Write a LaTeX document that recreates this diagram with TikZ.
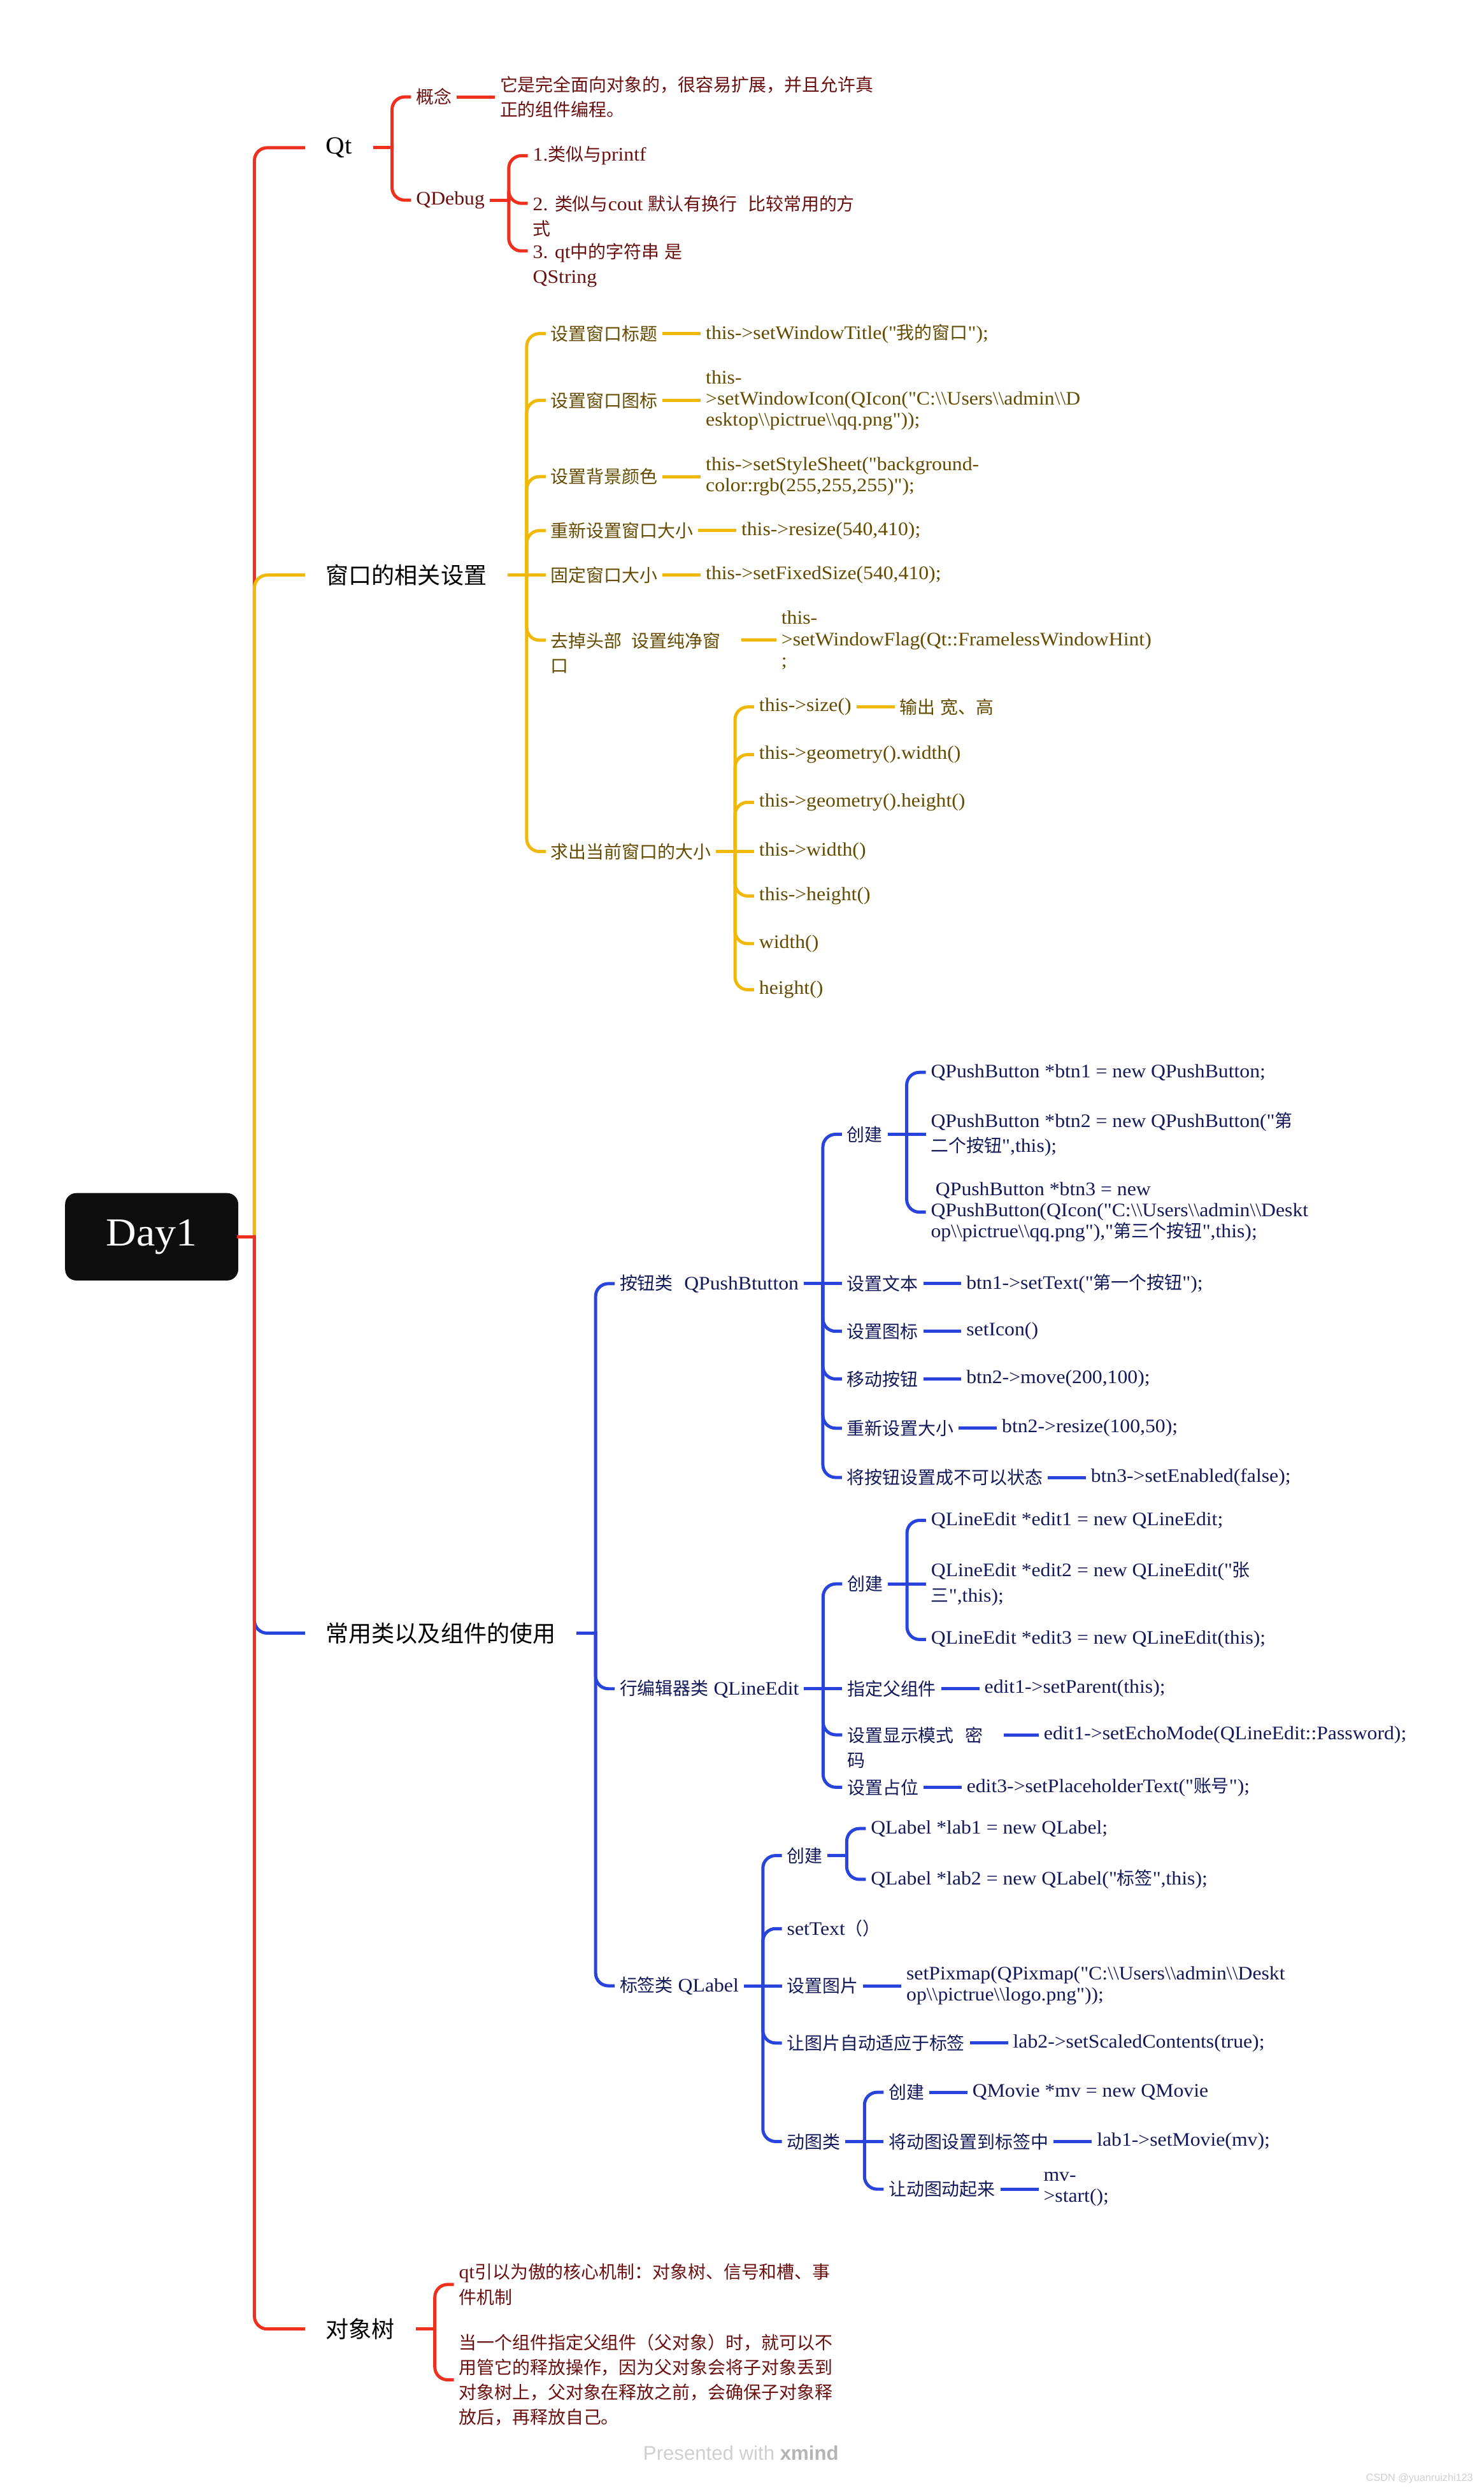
\documentclass[tikz,border=0pt]{standalone}
\usepackage{fontspec}
\setmainfont[Ligatures=TeXOff, FakeStretch=1.06]{Liberation Serif}
\newfontfamily\cjkfont[Scale=0.933]{Noto Sans CJK SC}
\newfontfamily\markfont{Liberation Sans}
\usetikzlibrary{positioning}

% Chinese runs switch to the CJK font by themselves
\XeTeXinterchartokenstate=1
\newXeTeXintercharclass\hanclass
\makeatletter
\def\sethan#1#2{\count@=#1\relax
  \loop\XeTeXcharclass\count@=\hanclass
  \ifnum\count@<#2\relax\advance\count@\@ne\repeat}
\sethan{"3000}{"303F}
\sethan{"4E00}{"9FFF}
\sethan{"FF00}{"FFEF}
\makeatother
\XeTeXinterchartoks 0 \hanclass = {\cjkfont}
\XeTeXinterchartoks 4095 \hanclass = {\cjkfont}
\XeTeXinterchartoks \hanclass 0 = {\rmfamily}
\XeTeXinterchartoks \hanclass 4095 = {\rmfamily}

\newcommand\bsl{\textbackslash}

\definecolor{xred}{HTML}{F0301E}
\definecolor{xyellow}{HTML}{F0B90A}
\definecolor{xblue}{HTML}{2844DC}
\definecolor{redtxt}{HTML}{6B1010}
\definecolor{yeltxt}{HTML}{644B00}
\definecolor{blutxt}{HTML}{14195A}
\definecolor{rootblack}{HTML}{0E0E0E}
\definecolor{markgray}{HTML}{CFCFCF}
\definecolor{markdark}{HTML}{B4B4B4}

\tikzset{
  rootbox/.style={fill=rootblack, rounded corners=7pt, minimum width=109pt,
    minimum height=55pt, text=white, font=\fontsize{25}{30}\selectfont},
  topic/.style={anchor=west, inner xsep=14pt, inner ysep=0pt,
    font=\fontsize{15.5}{18.6}\selectfont},
  lf/.style={inner xsep=4pt, inner ysep=0pt, align=left,
    font=\fontsize{12}{15.7}\selectfont},
  cd/.style={lf, font=\fontsize{12}{13.3}\selectfont},
  redt/.style={text=redtxt},
  yelt/.style={text=yeltxt},
  blut/.style={text=blutxt},
  br/.style={line width=2pt, rounded corners=8pt, line cap=rect},
}

\begin{document}
\begin{tikzpicture}[x=1pt, y=1pt]
\useasboundingbox (0,0) rectangle (934,-1568);

\node[rootbox] (day) at (95.5,-778.5) {Day1};

% main branches
\node[topic] (qt) at (191,-93) {Qt};
\node[topic] (win) at (191,-362) {窗口的相关设置};
\node[topic] (cls) at (191,-1028) {常用类以及组件的使用};
\node[topic] (tree) at (191,-1466) {对象树};

\draw[br, xred] (day.east) -- ++(10,0) coordinate (hub);
\draw[br, xred] (hub) |- (qt.west);
\draw[br, xyellow] (hub) |- (win.west);
\draw[br, xblue] (hub) |- (cls.west);
\draw[br, xred] (hub) |- (tree.west);

% Qt
\node[lf, redt, right=22pt of qt, yshift=32pt] (gn) {概念};
\node[lf, redt, right=22pt of gn] (gnv) {它是完全面向对象的，很容易扩展，并且允许真\\正的组件编程。};
\node[lf, redt, right=22pt of qt, yshift=-33pt] (qdbg) {QDebug};
\node[lf, redt, right=22pt of qdbg, yshift=28pt] (qd1) {1.类似与printf};
\node[lf, redt, right=22pt of qdbg, anchor=north west, yshift=3.2pt] (qd2) {2. 类似与cout 默认有换行\hspace{7pt}比较常用的方\\式};
\node[lf, redt, right=22pt of qdbg, anchor=north west, yshift=-26.8pt] (qd3) {3. qt中的字符串 是\\QString};

\draw[br, xred] (qt.east) -- ++(11,0) coordinate (qt-j);
\foreach \c in {gn, qdbg} \draw[br, xred] (qt-j) |- (\c.west);
\draw[br, xred] (gn.east) -- (gnv.west);
\draw[br, xred] (qdbg.east) -- ++(11,0) coordinate (qdbg-j);
\draw[br, xred] (qdbg-j) |- (qd1.west);
\foreach \c in {qd2, qd3} \draw[br, xred] (qdbg-j) |- ([yshift=-5.2pt]\c.north west);

% window settings
\node[lf, yelt, right=22pt of win, yshift=152pt] (w1) {设置窗口标题};
\node[lf, yelt, right=22pt of win, yshift=110pt] (w2) {设置窗口图标};
\node[lf, yelt, right=22pt of win, yshift=62pt] (w3) {设置背景颜色};
\node[lf, yelt, right=22pt of win, yshift=28pt] (w4) {重新设置窗口大小};
\node[lf, yelt, right=22pt of win] (w5) {固定窗口大小};
\node[lf, yelt, right=22pt of win, anchor=north west, yshift=-35.8pt] (w6) {去掉头部\hspace{6pt}设置纯净窗\\口};
\node[lf, yelt, right=22pt of win, yshift=-174pt] (w7) {求出当前窗口的大小};

\node[cd, yelt, right=22pt of w1] (w1v) {this->setWindowTitle("我的窗口");};
\node[cd, yelt, right=22pt of w2] (w2v) {this-\\>setWindowIcon(QIcon("C:\bsl\bsl Users\bsl\bsl admin\bsl\bsl D\\esktop\bsl\bsl pictrue\bsl\bsl qq.png"));};
\node[cd, yelt, right=22pt of w3] (w3v) {this->setStyleSheet("background-\\color:rgb(255,255,255)");};
\node[cd, yelt, right=22pt of w4] (w4v) {this->resize(540,410);};
\node[cd, yelt, right=22pt of w5] (w5v) {this->setFixedSize(540,410);};
\node[cd, yelt, anchor=west] (w6v) at ([xshift=30pt,yshift=-5.2pt]w6.north east) {this-\\>setWindowFlag(Qt::FramelessWindowHint)\\;};

\foreach \t/\dy [count=\i] in {this->size()/91, this->geometry().width()/61,
    this->geometry().height()/31, this->width()/0, this->height()/-28,
    width()/-58, height()/-87}
  \node[cd, yelt, right=22pt of w7, yshift=\dy pt] (sz\i) {\t};
\node[lf, yelt, right=22pt of sz1] (sz1v) {输出 宽、高};

\draw[br, xyellow] (win.east) -- ++(11,0) coordinate (win-j);
\foreach \c in {w1, w2, w3, w4, w7} \draw[br, xyellow] (win-j) |- (\c.west);
\draw[br, xyellow] (win-j) -- (w5.west);
\draw[br, xyellow] (win-j) |- ([yshift=-5.2pt]w6.north west);
\foreach \c in {w1, w2, w3, w4, w5} \draw[br, xyellow] (\c.east) -- (\c v.west);
\draw[br, xyellow] ([xshift=10pt,yshift=-5.2pt]w6.north east) -- (w6v.west);
\draw[br, xyellow] (w7.east) -- ++(11,0) coordinate (w7-j);
\foreach \i in {1,2,3,5,6,7} \draw[br, xyellow] (w7-j) |- (sz\i.west);
\draw[br, xyellow] (w7-j) -- (sz4.west);
\draw[br, xyellow] (sz1.east) -- (sz1v.west);

% classes and widgets
\node[lf, blut, right=22pt of cls, yshift=220pt] (pb) {按钮类\hspace{7pt}QPushBtutton};
\node[lf, blut, right=22pt of cls, yshift=-35pt] (le) {行编辑器类 QLineEdit};
\node[lf, blut, right=22pt of cls, yshift=-222pt] (lb) {标签类 QLabel};

\draw[br, xblue] (cls.east) -- ++(11,0) coordinate (cls-j);
\foreach \c in {pb, le, lb} \draw[br, xblue] (cls-j) |- (\c.west);

% QPushButton
\node[lf, blut, right=22pt of pb, yshift=94pt] (pb1) {创建};
\node[lf, blut, right=22pt of pb] (pb2) {设置文本};
\node[lf, blut, right=22pt of pb, yshift=-30pt] (pb3) {设置图标};
\node[lf, blut, right=22pt of pb, yshift=-60pt] (pb4) {移动按钮};
\node[lf, blut, right=22pt of pb, yshift=-91pt] (pb5) {重新设置大小};
\node[lf, blut, right=22pt of pb, yshift=-122pt] (pb6) {将按钮设置成不可以状态};

\node[cd, blut, right=22pt of pb1, yshift=39pt] (b1) {QPushButton *btn1 = new QPushButton;};
\node[lf, blut, right=22pt of pb1] (b2) {QPushButton *btn2 = new QPushButton("第\\二个按钮",this);};
\node[cd, blut, right=22pt of pb1, yshift=-49pt] (b3) {\hspace{3pt}QPushButton *btn3 = new\\QPushButton(QIcon("C:\bsl\bsl Users\bsl\bsl admin\bsl\bsl Deskt\\op\bsl\bsl pictrue\bsl\bsl qq.png"),"第三个按钮",this);};
\node[cd, blut, right=22pt of pb2] (pb2v) {btn1->setText("第一个按钮");};
\node[cd, blut, right=22pt of pb3] (pb3v) {setIcon()};
\node[cd, blut, right=22pt of pb4] (pb4v) {btn2->move(200,100);};
\node[cd, blut, right=22pt of pb5] (pb5v) {btn2->resize(100,50);};
\node[cd, blut, right=22pt of pb6] (pb6v) {btn3->setEnabled(false);};

\draw[br, xblue] (pb.east) -- ++(11,0) coordinate (pb-j);
\foreach \c in {pb1, pb3, pb4, pb5, pb6} \draw[br, xblue] (pb-j) |- (\c.west);
\draw[br, xblue] (pb-j) -- (pb2.west);
\foreach \c in {pb2, pb3, pb4, pb5, pb6} \draw[br, xblue] (\c.east) -- (\c v.west);
\draw[br, xblue] (pb1.east) -- ++(11,0) coordinate (pb1-j);
\foreach \c in {b1, b3} \draw[br, xblue] (pb1-j) |- (\c.west);
\draw[br, xblue] (pb1-j) -- (b2.west);

% QLineEdit
\node[lf, blut, right=22pt of le, yshift=66pt] (le1) {创建};
\node[lf, blut, right=22pt of le] (le2) {指定父组件};
\node[lf, blut, right=22pt of le, anchor=north west, yshift=-23.8pt] (le3) {设置显示模式\hspace{7pt}密\\码};
\node[lf, blut, right=22pt of le, yshift=-62pt] (le4) {设置占位};

\node[cd, blut, right=22pt of le1, yshift=40pt] (e1) {QLineEdit *edit1 = new QLineEdit;};
\node[lf, blut, right=22pt of le1] (e2) {QLineEdit *edit2 = new QLineEdit("张\\三",this);};
\node[cd, blut, right=22pt of le1, yshift=-35pt] (e3) {QLineEdit *edit3 = new QLineEdit(this);};
\node[cd, blut, right=22pt of le2] (le2v) {edit1->setParent(this);};
\node[cd, blut, anchor=west] (le3v) at ([xshift=30pt,yshift=-5.2pt]le3.north east) {edit1->setEchoMode(QLineEdit::Password);};
\node[cd, blut, right=22pt of le4] (le4v) {edit3->setPlaceholderText("账号");};

\draw[br, xblue] (le.east) -- ++(11,0) coordinate (le-j);
\foreach \c in {le1, le4} \draw[br, xblue] (le-j) |- (\c.west);
\draw[br, xblue] (le-j) -- (le2.west);
\draw[br, xblue] (le-j) |- ([yshift=-5.2pt]le3.north west);
\draw[br, xblue] (le1.east) -- ++(11,0) coordinate (le1-j);
\foreach \c in {e1, e3} \draw[br, xblue] (le1-j) |- (\c.west);
\draw[br, xblue] (le1-j) -- (e2.west);
\foreach \c in {le2, le4} \draw[br, xblue] (\c.east) -- (\c v.west);
\draw[br, xblue] ([xshift=10pt,yshift=-5.2pt]le3.north east) -- (le3v.west);

% QLabel
\node[lf, blut, right=22pt of lb, yshift=82pt] (lb1) {创建};
\node[lf, blut, right=22pt of lb, yshift=36pt] (lb2) {setText（）};
\node[lf, blut, right=22pt of lb] (lb3) {设置图片};
\node[lf, blut, right=22pt of lb, yshift=-36pt] (lb4) {让图片自动适应于标签};
\node[lf, blut, right=22pt of lb, yshift=-98pt] (lb5) {动图类};

\node[cd, blut, right=22pt of lb1, yshift=17pt] (l1) {QLabel *lab1 = new QLabel;};
\node[cd, blut, right=22pt of lb1, yshift=-15pt] (l2) {QLabel *lab2 = new QLabel("标签",this);};
\node[cd, blut, right=22pt of lb3] (lb3v) {setPixmap(QPixmap("C:\bsl\bsl Users\bsl\bsl admin\bsl\bsl Deskt\\op\bsl\bsl pictrue\bsl\bsl logo.png"));};
\node[cd, blut, right=22pt of lb4] (lb4v) {lab2->setScaledContents(true);};

\node[lf, blut, right=22pt of lb5, yshift=31pt] (m1) {创建};
\node[lf, blut, right=22pt of lb5] (m2) {将动图设置到标签中};
\node[lf, blut, right=22pt of lb5, yshift=-30pt] (m3) {让动图动起来};
\node[cd, blut, right=22pt of m1] (m1v) {QMovie *mv = new QMovie};
\node[cd, blut, right=22pt of m2] (m2v) {lab1->setMovie(mv);};
\node[cd, blut, right=22pt of m3] (m3v) {mv-\\>start();};

\draw[br, xblue] (lb.east) -- ++(11,0) coordinate (lb-j);
\foreach \c in {lb1, lb2, lb4, lb5} \draw[br, xblue] (lb-j) |- (\c.west);
\draw[br, xblue] (lb-j) -- (lb3.west);
\draw[br, xblue] (lb1.east) -- ++(11,0) coordinate (lb1-j);
\foreach \c in {l1, l2} \draw[br, xblue] (lb1-j) |- (\c.west);
\foreach \c in {lb3, lb4} \draw[br, xblue] (\c.east) -- (\c v.west);
\draw[br, xblue] (lb5.east) -- ++(11,0) coordinate (lb5-j);
\foreach \c in {m1, m3} \draw[br, xblue] (lb5-j) |- (\c.west);
\draw[br, xblue] (lb5-j) -- (m2.west);
\foreach \c in {m1, m2, m3} \draw[br, xblue] (\c.east) -- (\c v.west);

% object tree
\node[lf, redt, right=22pt of tree, yshift=28pt] (t1) {qt引以为傲的核心机制：对象树、信号和槽、事\\件机制};
\node[lf, redt, right=22pt of tree, yshift=-32pt] (t2) {当一个组件指定父组件（父对象）时，就可以不\\用管它的释放操作，因为父对象会将子对象丢到\\对象树上，父对象在释放之前，会确保子对象释\\放后，再释放自己。};

\draw[br, xred] (tree.east) -- ++(11,0) coordinate (tree-j);
\foreach \c in {t1, t2} \draw[br, xred] (tree-j) |- (\c.west);

% footer
\node[font=\markfont\fontsize{12.5}{15}\selectfont, text=markgray] (wm) at (466.5,-1544) {Presented with \textcolor{markdark}{\bfseries xmind}};
\node[font=\markfont\fontsize{6.5}{8}\selectfont, text=markgray, anchor=east] (csdn) at (931,-1560) {CSDN @yuanruizhi123};
\end{tikzpicture}
\end{document}
